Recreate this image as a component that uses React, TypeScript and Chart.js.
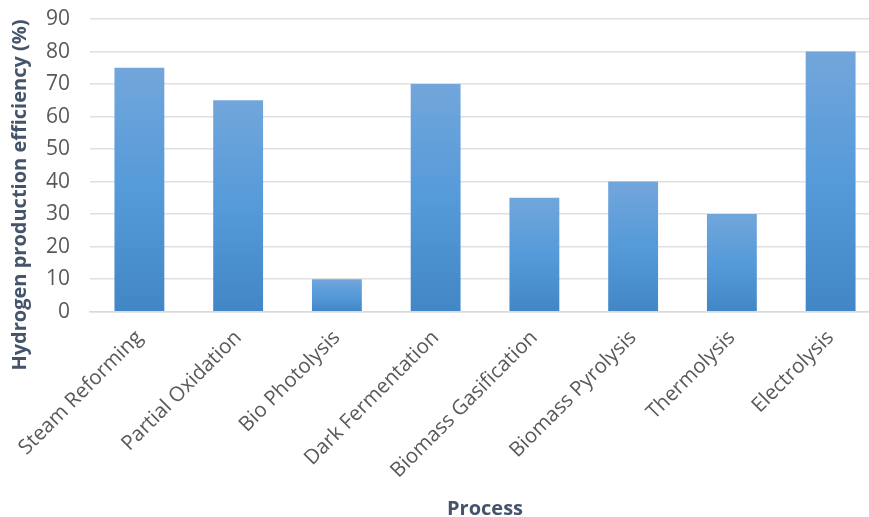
import React, { useEffect, useRef } from "react";
import { Chart, registerables } from "chart.js";

Chart.register(...registerables);

const categories = [
  "Steam Reforming",
  "Partial Oxidation",
  "Bio Photolysis",
  "Dark Fermentation",
  "Biomass Gasification",
  "Biomass Pyrolysis",
  "Thermolysis",
  "Electrolysis",
];
const efficiency = [75, 65, 10, 70, 35, 40, 30, 80];
const yTitle = "Hydrogen production efficiency (%)";
const xTitle = "Process";

const FONT = "'Open Sans', Lato, sans-serif";
const TICK_COLOR = "#595959";
const TITLE_COLOR = "#44546A";

const yTitlePlugin = {
  id: "yTitlePlugin",
  afterDraw(chart: any) {
    const { ctx, chartArea } = chart;
    ctx.save();
    ctx.font = `bold 20px ${FONT}`;
    ctx.fillStyle = TITLE_COLOR;
    ctx.textAlign = "center";
    ctx.textBaseline = "middle";
    ctx.translate(20, chartArea.top + 176);
    ctx.rotate(-Math.PI / 2);
    ctx.fillText(yTitle, 0, 0);
    ctx.restore();
  },
};

export default function App() {
  const ref = useRef<HTMLCanvasElement | null>(null);
  useEffect(() => {
    if (!ref.current) return;
    const chart = new Chart(ref.current, {
      type: "bar",
      data: {
        labels: categories,
        datasets: [
          {
            data: efficiency,
            barPercentage: 0.505,
            categoryPercentage: 1,
            backgroundColor: (c: any) => {
              const ch = c.chart;
              const ys = ch.scales?.y;
              if (!ch.chartArea || !ys || c.parsed == null) return "#5b9bd5";
              const top = ys.getPixelForValue(c.parsed.y);
              const bottom = ys.getPixelForValue(0);
              if (!isFinite(top) || !isFinite(bottom) || top === bottom) return "#5b9bd5";
              const g = ch.ctx.createLinearGradient(0, top, 0, bottom);
              g.addColorStop(0, "#72a6db");
              g.addColorStop(0.5, "#559ad9");
              g.addColorStop(1, "#4286c6");
              return g;
            },
            borderWidth: 0,
          },
        ],
      },
      options: {
        responsive: false,
        animation: false,
        layout: { padding: { top: 0, bottom: 0, left: 26, right: 0 } },
        plugins: { legend: { display: false }, tooltip: { enabled: false } },
        scales: {
          x: {
            grid: { display: false },
            border: { display: true, color: "#d9d9d9", width: 1.5 },
            ticks: {
              color: TICK_COLOR,
              font: { family: FONT, size: 20.5 },
              minRotation: 45,
              maxRotation: 45,
              padding: 6,
            },
            title: {
              display: true,
              text: xTitle,
              color: TITLE_COLOR,
              font: { family: FONT, size: 20, weight: "bold" },
              padding: { top: 8, bottom: -4 },
            },
          },
          y: {
            min: 0,
            max: 90,
            afterFit: (scale: any) => {
              scale.paddingTop = 19;
              scale.paddingBottom = 12;
            },
            ticks: {
              stepSize: 10,
              color: TICK_COLOR,
              font: { family: FONT, size: 21 },
              padding: 20,
            },
            grid: { color: "#e0e0e0", lineWidth: 1.5, drawTicks: false },
            border: { display: false },
          },
        },
      },
      plugins: [yTitlePlugin],
    });
    return () => chart.destroy();
  }, []);
  return (
    <div style={{ position: "fixed", left: 0, top: 0, width: 869, height: 517, overflow: "hidden", background: "#fff" }}>
      <canvas ref={ref} width={880} height={517} style={{ width: 880, height: 517, display: "block" }} />
    </div>
  );
}
